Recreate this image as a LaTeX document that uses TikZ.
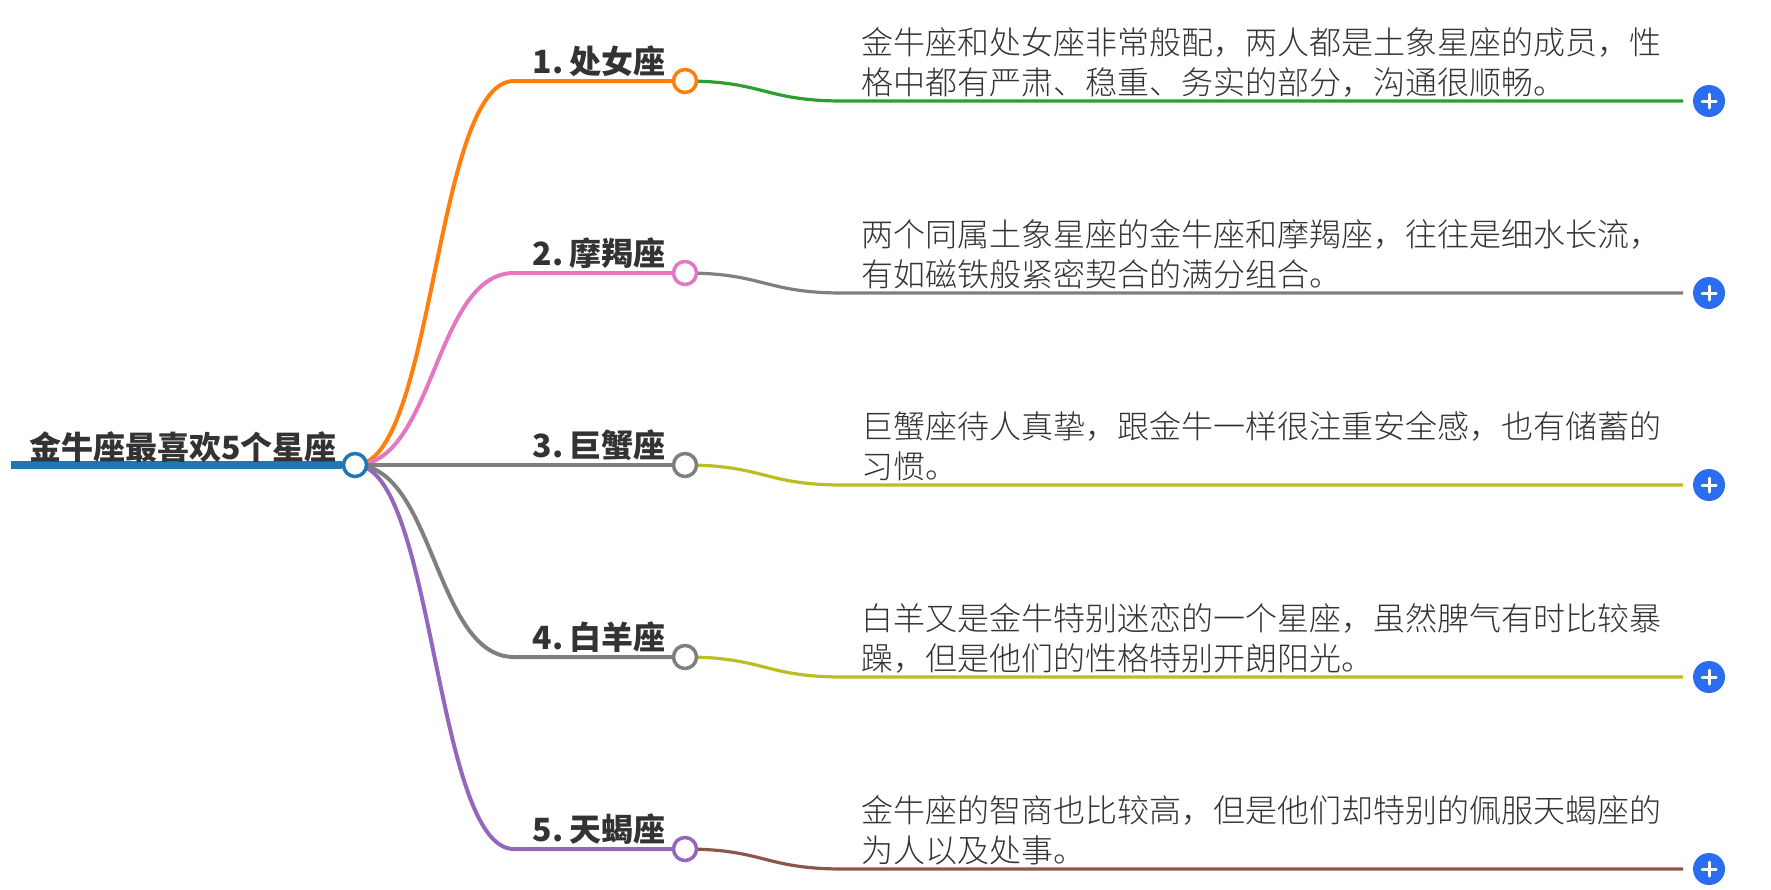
\documentclass[tikz,border=0pt]{standalone}
\usepackage{fontspec}
\usetikzlibrary{backgrounds}
\setmainfont{Noto Sans CJK SC}
\newfontfamily\lightcjk{Noto Sans CJK SC Light}
\definecolor{rootblue}{HTML}{1F77B4}
\definecolor{brorange}{HTML}{FF7F0E}
\definecolor{brpink}{HTML}{E377C2}
\definecolor{brgray}{HTML}{7F7F7F}
\definecolor{brpurple}{HTML}{9467BD}
\definecolor{subgreen}{HTML}{2CA02C}
\definecolor{subyellow}{HTML}{BCBD22}
\definecolor{subbrown}{HTML}{8C564B}
\definecolor{plusblue}{HTML}{2A6DF0}
\definecolor{inkgray}{HTML}{333333}
\tikzset{
    dot/.style={circle, draw, fill=white, line width=3.5pt, minimum size=23pt, inner sep=0pt},
    plusbtn/.style={circle, fill=plusblue, minimum size=32pt, inner sep=0pt,
        path picture={\draw[white, line width=3pt, line cap=round]
            ([xshift=-7pt]path picture bounding box.center) -- ([xshift=7pt]path picture bounding box.center)
            ([yshift=-7pt]path picture bounding box.center) -- ([yshift=7pt]path picture bounding box.center);}},
    headtext/.style={font=\fontsize{32}{40}\selectfont\bfseries, text=inkgray, anchor=base east, inner sep=0pt},
    bodytext/.style={font=\fontsize{32}{40}\lightcjk\selectfont, text=inkgray, anchor=base west, align=left, inner sep=0pt}
}
\begin{document}
\begin{tikzpicture}[x=1pt, y=-1pt]
    \useasboundingbox (0,0) rectangle (1771,889);
    % root
    \node[dot, draw=rootblue] (root) at (355,465) {};
    \coordinate (rootstart) at (11,465);
    \draw[rootblue, line width=8pt] (rootstart) -- (root.west);
    \node[headtext] (title) at (337,459.5) {金牛座最喜欢5个星座};
    % branches
    \foreach \n/\y/\bcol/\scol in {virgo/81/brorange/subgreen, capricorn/273/brpink/brgray,
        cancer/465/brgray/subyellow, aries/657/brgray/subyellow, scorpio/849/brpurple/subbrown}
    {
    \node[dot, draw=\bcol] (\n) at (685,\y) {};
    \coordinate (\n bend) at (514,\y);
    \coordinate (\n elbow) at (843,\y+20);
    \coordinate (\n end) at (1683,\y+20);
    \node[plusbtn] (\n plus) at (1709,\y+20) {};
    \begin{scope}[on background layer]
    \draw[\bcol, line width=4pt] (root.center) .. controls (434.5,465) and (434.5,\y) .. (\n bend) -- (\n.center);
    \draw[\scol, line width=3.2pt] (\n.center) .. controls (764,\y) and (764,\y+20) .. (\n elbow) -- (\n end);
    \end{scope}
    }
    % labels
    \node[headtext] (virgolabel) at (666,73) {1.\kern6.5pt 处女座};
    \node[headtext] (capricornlabel) at (666,265) {2.\kern6.5pt 摩羯座};
    \node[headtext] (cancerlabel) at (666,457) {3.\kern6.5pt 巨蟹座};
    \node[headtext] (arieslabel) at (666,649) {4.\kern6.5pt 白羊座};
    \node[headtext] (scorpiolabel) at (666,841) {5.\kern6.5pt 天蝎座};
    \node[bodytext] (virgotext) at (861,94.5) {金牛座和处女座非常般配，两人都是土象星座的成员，性\\格中都有严肃、稳重、务实的部分，沟通很顺畅。};
    \node[bodytext] (capricorntext) at (861,286.5) {两个同属土象星座的金牛座和摩羯座，往往是细水长流，\\有如磁铁般紧密契合的满分组合。};
    \node[bodytext] (cancertext) at (861,478.5) {巨蟹座待人真挚，跟金牛一样很注重安全感，也有储蓄的\\习惯。};
    \node[bodytext] (ariestext) at (861,670.5) {白羊又是金牛特别迷恋的一个星座，虽然脾气有时比较暴\\躁，但是他们的性格特别开朗阳光。};
    \node[bodytext] (scorpiotext) at (861,862.5) {金牛座的智商也比较高，但是他们却特别的佩服天蝎座的\\为人以及处事。};
\end{tikzpicture}
\end{document}
